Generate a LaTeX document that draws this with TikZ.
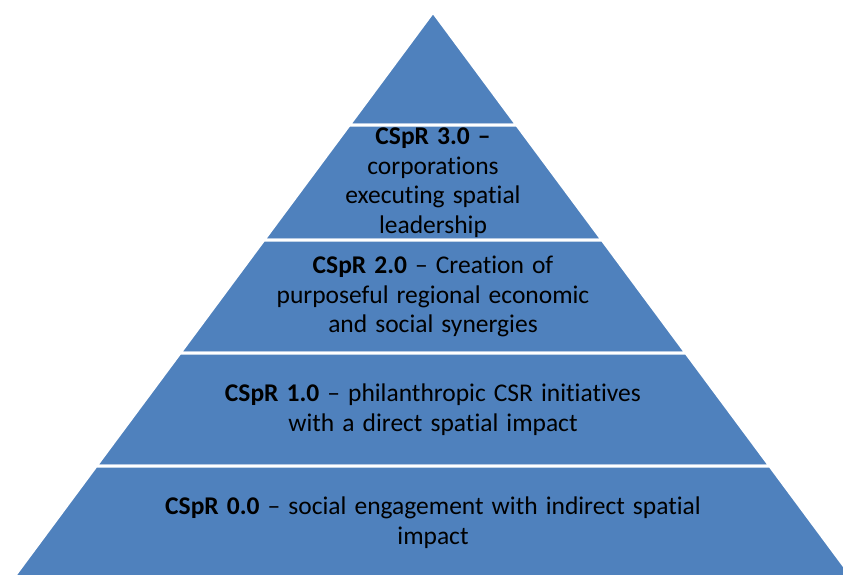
\documentclass[tikz,border=0pt]{standalone}
\usepackage{fontspec}
\setmainfont{Carlito}[Ligatures=NoCommon, WordSpace=1.4]
\definecolor{pyrblue}{HTML}{4F81BD}
\tikzset{
  band/.style={fill=pyrblue, draw=white, line width=3pt, line join=miter},
  lbl/.style={align=center, text=black, font=\fontsize{25.5}{29.5}\selectfont, inner sep=0pt}
}
\begin{document}
\begin{tikzpicture}[x=1pt,y=-1pt]
\useasboundingbox (0,0) rectangle (843,574);
\clip (0,0) rectangle (843,574);
\fill[white] (0,0) rectangle (843,574);
% band corners
\coordinate (A) at (433,12);
\coordinate (L1) at (349.2,125); \coordinate (R1) at (516.8,125);
\coordinate (L2) at (263.8,240); \coordinate (R2) at (602.2,240);
\coordinate (L3) at (180,353);   \coordinate (R3) at (686,353);
\coordinate (L4) at (96.1,466);  \coordinate (R4) at (769.9,466);
\coordinate (L5) at (12.3,579);  \coordinate (R5) at (853.7,579);
\draw[band] (A) -- (R1) -- (L1) -- cycle;
\draw[band] (L1) -- (R1) -- (R2) -- (L2) -- cycle;
\draw[band] (L2) -- (R2) -- (R3) -- (L3) -- cycle;
\draw[band] (L3) -- (R3) -- (R4) -- (L4) -- cycle;
\draw[band] (L4) -- (R4) -- (R5) -- (L5) -- cycle;
% labels
\node[lbl] (t3) at (433,182.5) {\textbf{CSpR 3.0 –}\\corporations\\executing spatial\\leadership};
\node[lbl] (t2) at (433,296.5) {\textbf{CSpR 2.0} – Creation of\\purposeful regional economic\\and social synergies};
\node[lbl] (t1) at (433,409.5) {\textbf{CSpR 1.0} – philanthropic CSR initiatives\\with a direct spatial impact};
\node[lbl] (t0) at (433,522.5) {\textbf{CSpR 0.0} – social engagement with indirect spatial\\impact};
\end{tikzpicture}
\end{document}
